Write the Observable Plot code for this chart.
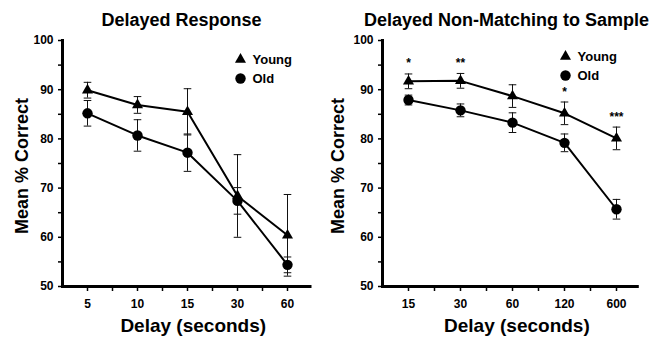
<!DOCTYPE html>
<html><head><meta charset="utf-8">
<script src="https://cdn.jsdelivr.net/npm/d3@7"></script>
<script src="https://cdn.jsdelivr.net/npm/@observablehq/plot@0.6"></script>
<style>
html,body{margin:0;padding:0;background:#fff;}
#chart{position:relative;width:655px;height:344px;overflow:hidden;font-family:"Liberation Sans",Arial,sans-serif;}
.panel{position:absolute;top:0;height:344px;}
.title{box-sizing:border-box;height:30px;padding-top:11px;line-height:18px;font-size:18px;font-weight:bold;text-align:center;white-space:nowrap;color:#000;}
</style></head><body><div id="chart"></div>
<script>
// ---- data ----
const seriesNames = ["Young", "Old"];

const drTitle = "Delayed Response";
const drDelays = ["5", "10", "15", "30", "60"];
const drYoung = [89.9, 86.9, 85.5, 68.4, 60.4];
const drYoungErr = [1.6, 1.7, 4.7, 8.4, 8.3];
const drOld = [85.2, 80.7, 77.2, 67.4, 54.4];
const drOldErr = [2.6, 3.2, 3.8, 2.7, 1.6];
const drStars = ["", "", "", "", ""];

const dnmsTitle = "Delayed Non-Matching to Sample";
const dnmsDelays = ["15", "30", "60", "120", "600"];
const dnmsYoung = [91.7, 91.8, 88.7, 85.2, 80.1];
const dnmsYoungErr = [1.5, 1.5, 2.3, 2.3, 2.3];
const dnmsOld = [87.9, 85.8, 83.3, 79.2, 65.7];
const dnmsOldErr = [1.0, 1.3, 2.0, 1.8, 2.0];
const dnmsStars = ["*", "**", "", "*", "***"];

const yTicks = [50, 60, 70, 80, 90, 100];
const yMinorTicks = [55, 65, 75, 85, 95];
const yLabel = "Mean % Correct";
const xLabel = "Delay (seconds)";

// ---- drawing ----
const capSymbol = {
  draw(ctx, size) { const w = Math.sqrt(size) / 2; ctx.moveTo(-w, 0); ctx.lineTo(w, 0); }
};

function panel(cfg) {
  const rows = cfg.delays.map((d, i) => ({
    i: i + 1, delay: d,
    young: cfg.young[i], youngErr: cfg.youngErr[i],
    old: cfg.old[i], oldErr: cfg.oldErr[i],
    star: cfg.stars[i]
  }));
  const n = rows.length;
  const errMarks = (key, ekey) => [
    Plot.ruleX(rows, {x: "i", y1: d => d[key] - d[ekey], y2: d => d[key] + d[ekey], stroke: "#111", strokeWidth: 1}),
    Plot.dot(rows, {x: "i", y: d => d[key] + d[ekey], symbol: capSymbol, r: 4.3, fill: "none", stroke: "#111", strokeWidth: 1}),
    Plot.dot(rows, {x: "i", y: d => d[key] - d[ekey], symbol: capSymbol, r: 4.3, fill: "none", stroke: "#111", strokeWidth: 1})
  ];
  return Plot.plot({
    width: cfg.width, height: 314,
    marginLeft: cfg.ml, marginRight: cfg.mr, marginTop: 10, marginBottom: 58,
    style: {fontFamily: '"Liberation Sans", Arial, sans-serif', fontWeight: "bold", fontSize: "12px", color: "#000", background: "#fff", overflow: "visible"},
    x: {type: "linear", domain: [0.5, n + cfg.xEnd]},
    y: {domain: [50, 100]},
    marks: [
      Plot.axisY({ticks: yTicks, tickSize: 4, tickPadding: 5, strokeWidth: 1.5, label: null, fontSize: 12}),
      Plot.axisY({ticks: yMinorTicks, tickSize: 4, tickFormat: () => "", strokeWidth: 1.5, label: null}),
      Plot.axisX({ticks: d3.range(1, n + 1), tickFormat: i => cfg.delays[i - 1], tickSize: 5, tickPadding: 8, strokeWidth: 1.5, label: null, fontSize: 12}),
      Plot.axisX({ticks: d3.range(1.5, n, 1), tickFormat: () => "", tickSize: 5, strokeWidth: 1.5, label: null}),
      Plot.frame({anchor: "left", strokeWidth: 3}),
      Plot.frame({anchor: "bottom", strokeWidth: 3}),
      ...errMarks("young", "youngErr"),
      ...errMarks("old", "oldErr"),
      Plot.line(rows, {x: "i", y: "young", stroke: "#000", strokeWidth: 2}),
      Plot.line(rows, {x: "i", y: "old", stroke: "#000", strokeWidth: 2}),
      Plot.dot(rows, {x: "i", y: "young", symbol: "triangle", r: 4.1, fill: "#000", stroke: "none"}),
      Plot.dot(rows, {x: "i", y: "old", symbol: "circle", r: 5.2, fill: "#000", stroke: "none"}),
      Plot.text(rows, {x: "i", y: d => d.young + d.youngErr, text: "star", lineAnchor: "bottom", dy: -6.5, fontSize: 12}),
      // legend
      Plot.dot([seriesNames[0]], {frameAnchor: "top-right", dx: cfg.legDx, dy: cfg.legDy, symbol: "triangle", r: 4.1, fill: "#000", stroke: "none"}),
      Plot.dot([seriesNames[1]], {frameAnchor: "top-right", dx: cfg.legDx, dy: cfg.legDy + 19, symbol: "circle", r: 5.2, fill: "#000", stroke: "none"}),
      Plot.text([seriesNames[0]], {frameAnchor: "top-right", dx: cfg.legDx + 12, dy: cfg.legDy, text: d => d, textAnchor: "start", lineAnchor: "middle", fontSize: 13}),
      Plot.text([seriesNames[1]], {frameAnchor: "top-right", dx: cfg.legDx + 12, dy: cfg.legDy + 19, text: d => d, textAnchor: "start", lineAnchor: "middle", fontSize: 13}),
      // axis titles
      Plot.text([yLabel], {frameAnchor: "left", text: d => d, rotate: -90, dx: cfg.yLabDx, dy: 2.5, textAnchor: "middle", lineAnchor: "middle", fontSize: 18}),
      Plot.text([xLabel], {frameAnchor: "bottom", text: d => d, dx: 7, dy: 39.5, textAnchor: "middle", lineAnchor: "middle", fontSize: 19})
    ]
  });
}

const chart = document.getElementById("chart");
function addPanel(left, width, titleText, titlePad, plot) {
  const div = document.createElement("div");
  div.className = "panel";
  div.style.left = left + "px";
  div.style.width = width + "px";
  const t = document.createElement("div");
  t.className = "title";
  t.style.paddingLeft = titlePad + "px";
  t.textContent = titleText;
  div.appendChild(t);
  div.appendChild(plot);
  chart.appendChild(div);
}

addPanel(0, 327, drTitle, 36, panel({
  delays: drDelays, young: drYoung, youngErr: drYoungErr, old: drOld, oldErr: drOldErr, stars: drStars,
  width: 327, ml: 62, mr: 17.5, xEnd: 0.45, legDx: -69.5, legDy: 19, yLabDx: -40
}));
addPanel(328, 327, dnmsTitle, 30, panel({
  delays: dnmsDelays, young: dnmsYoung, youngErr: dnmsYoungErr, old: dnmsOld, oldErr: dnmsOldErr, stars: dnmsStars,
  width: 327, ml: 54, mr: 18.2, xEnd: 0.4, legDx: -71.8, legDy: 16, yLabDx: -44
}));
</script>
</body></html>
